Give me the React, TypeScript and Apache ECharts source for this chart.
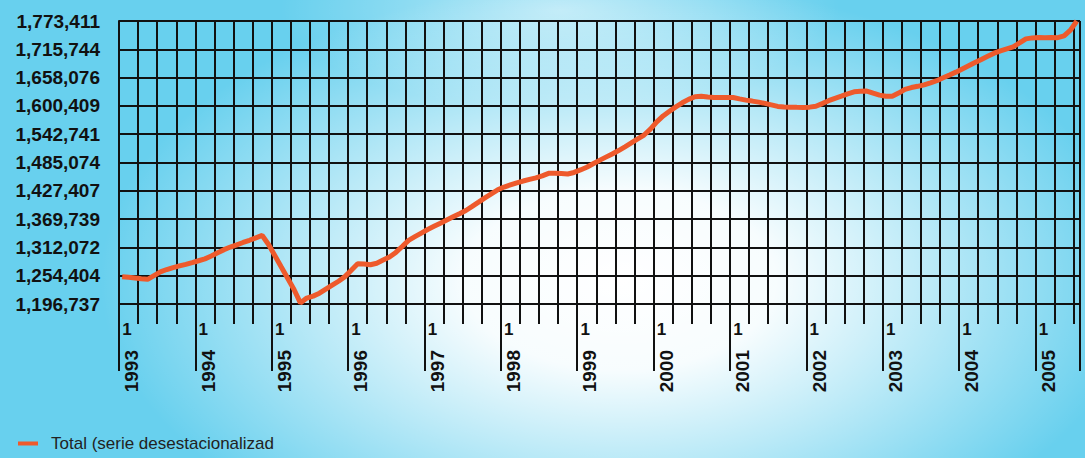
import { useEffect, useRef } from 'react';
import * as echarts from 'echarts';

const startYear = 1993;
const seriesName = 'Total (serie desestacionalizad';

// Monthly values, Jan 1993 .. Jul 2005
const values: number[] = [
  1252300, 1251100, 1249700, 1248200, 1247000, 1254700, 1262100, 1267000, 1271000, 1274300, 1277500, 1281000,
  1284900, 1288700, 1294400, 1301000, 1307500, 1312800, 1317400, 1322100, 1326600, 1331500, 1336400, 1318100,
  1295100, 1272100, 1249300, 1226300, 1199000, 1208900, 1212800, 1218700, 1226900, 1235000, 1243100, 1252500,
  1265500, 1278600, 1278100, 1276700, 1279800, 1286300, 1292600, 1301800, 1314000, 1326400, 1333900, 1341300,
  1348600, 1355100, 1361400, 1367900, 1374400, 1380700, 1387300, 1395800, 1404400, 1413100, 1421300, 1429400,
  1435100, 1439400, 1443600, 1447300, 1450600, 1453800, 1457900, 1463000, 1463400, 1462600, 1461600, 1464800,
  1469900, 1475400, 1482500, 1489400, 1496000, 1502500, 1509400, 1517100, 1524900, 1533000, 1541100, 1553200,
  1567800, 1580000, 1589600, 1598500, 1606700, 1613800, 1619100, 1620100, 1618700, 1617500, 1617500, 1617500,
  1617500, 1614800, 1612200, 1610200, 1608100, 1605500, 1602600, 1599400, 1598100, 1597900, 1597500, 1597300,
  1597900, 1599600, 1605100, 1611000, 1615900, 1620300, 1625000, 1629100, 1630100, 1630700, 1626400, 1622400,
  1620100, 1620100, 1626600, 1634200, 1637800, 1640300, 1643300, 1647400, 1651700, 1657600, 1663300, 1669200,
  1675700, 1682200, 1688700, 1695000, 1701500, 1707900, 1712700, 1716800, 1720700, 1728800, 1737000, 1739000,
  1740000, 1739500, 1740000, 1739500, 1743000, 1754700, 1773411,
];

const yTicks: number[] = [
  1196737, 1254404, 1312072, 1369739, 1427407, 1485074, 1542741, 1600409, 1658076, 1715744, 1773411,
];

const categories: string[] = values.map((_, i) => `${startYear + Math.floor(i / 12)}-${(i % 12) + 1}`);

const fmt = (v: number) => String(Math.round(v)).replace(/\B(?=(\d{3})+(?!\d))/g, ',');
const FONT = 'Liberation Sans, Arial, sans-serif';
const INK = '#111';

export default function App() {
  const ref = useRef<HTMLDivElement>(null);
  useEffect(() => {
    if (!ref.current) return;
    const chart = echarts.init(ref.current, undefined, { renderer: 'svg' });
    chart.setOption({
      animation: false,
      backgroundColor: 'transparent',
      grid: { left: 119, right: 5, top: 21, bottom: 154, outerBoundsMode: 'none' },
      legend: {
        data: [seriesName],
        left: 13,
        top: 430,
        icon: 'rect',
        itemWidth: 20,
        itemHeight: 4,
        textStyle: { fontSize: 17, color: '#222', fontFamily: FONT, padding: [0, 0, 0, 8] },
      },
      xAxis: [
        {
          type: 'category',
          position: 'bottom',
          data: categories,
          boundaryGap: true,
          axisLine: { show: true, lineStyle: { color: INK, width: 2 } },
          axisTick: { show: true, interval: (i: number) => i % 3 === 0, length: 20, lineStyle: { color: INK, width: 2 } },
          splitLine: { show: true, interval: (i: number) => i % 3 === 0, lineStyle: { color: INK, width: 2 } },
          axisLabel: {
            interval: (i: number) => i % 12 === 0,
            formatter: () => '1',
            margin: 17,
            fontSize: 17,
            fontWeight: 'bold',
            color: INK,
            fontFamily: FONT,
            align: 'left',
          },
        },
        {
          type: 'category',
          position: 'bottom',
          data: categories,
          boundaryGap: true,
          axisLine: { show: false },
          splitLine: { show: false },
          axisTick: { show: true, interval: (i: number) => i % 12 === 0, length: 67, lineStyle: { color: INK, width: 2 } },
          axisLabel: {
            interval: (i: number) => i % 12 === 0,
            formatter: (v: string) => v.split('-')[0],
            rotate: 90,
            margin: 46,
            fontSize: 19,
            fontWeight: 'bold',
            color: INK,
            fontFamily: FONT,
            verticalAlign: 'top',
          },
        },
      ],
      yAxis: {
        type: 'value',
        min: yTicks[0],
        max: yTicks[yTicks.length - 1],
        axisLine: { show: true, lineStyle: { color: INK, width: 2 } },
        axisTick: { show: false, customValues: yTicks },
        axisLabel: {
          customValues: yTicks,
          formatter: (v: number) => fmt(v),
          fontSize: 19,
          fontWeight: 'bold',
          color: INK,
          fontFamily: FONT,
          margin: 19,
        },
        splitLine: { show: true, lineStyle: { color: INK, width: 2 } },
      },
      series: [
        {
          name: seriesName,
          type: 'line',
          data: values,
          xAxisIndex: 0,
          showSymbol: false,
          color: '#ee5a2c',
          lineStyle: { width: 5, color: '#ee5a2c' },
          z: 5,
        },
      ],
    });
    return () => chart.dispose();
  }, []);
  return (
    <div
      ref={ref}
      style={{
        position: 'fixed',
        left: 0,
        top: 0,
        width: 1085,
        height: 458,
        background:
          'radial-gradient(ellipse 520px 300px at 620px 280px, rgba(255,255,255,1) 0%, rgba(255,255,255,0.95) 30%, rgba(255,255,255,0.55) 60%, rgba(255,255,255,0) 100%), radial-gradient(ellipse 280px 100px at 560px 10px, rgba(255,255,255,0.55) 0%, rgba(255,255,255,0) 100%), #68d0ee',
      }}
    />
  );
}
